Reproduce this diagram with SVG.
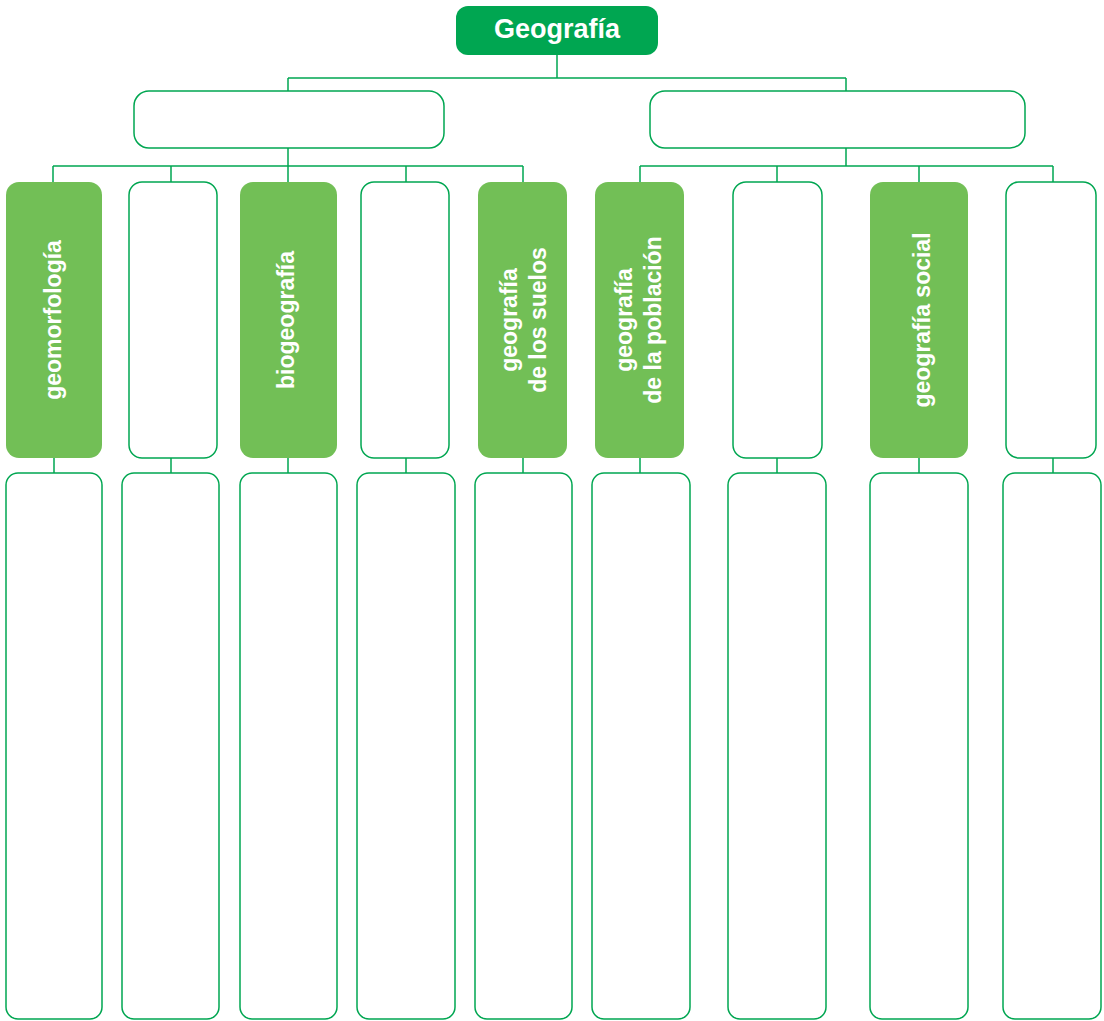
<svg xmlns="http://www.w3.org/2000/svg" width="1104" height="1021" viewBox="0 0 1104 1021">
<style>
.out{fill:#ffffff;stroke:#00A651;stroke-width:1.5}
.grn{fill:#72BF56}
.top{fill:#00A651}
.ln{stroke:#00A651;stroke-width:1.5;fill:none}
.t{font-family:"Liberation Sans",Arial,sans-serif;font-weight:bold;font-size:23px;fill:#ffffff;text-anchor:middle}
.h{font-family:"Liberation Sans",Arial,sans-serif;font-weight:bold;font-size:27px;fill:#ffffff;text-anchor:middle}
</style>
<rect width="1104" height="1021" fill="#ffffff"/>
<g id="connectors" class="ln">
<path d="M557 55V78M288 78H846M288 78V91M846 78V91"/>
<path d="M288 148V166M53 166H523M53 166V182M171 166V182M288 166V182M406 166V182M523 166V182"/>
<path d="M846 148V166M640 166H1053M640 166V182M777 166V182M919 166V182M1053 166V182"/>
<path d="M54 458V473M171 458V473M288 458V473M406 458V473M523 458V473M640 458V473M777 458V473M919 458V473M1053 458V473"/>
</g>
<g id="geografia"><rect class="top" x="456" y="6" width="202" height="49" rx="12"/><text class="h" x="557" y="38">Geografía</text></g>
<g id="rama-izq"><rect class="out" x="134" y="91" width="310" height="57" rx="15"/></g>
<g id="rama-der"><rect class="out" x="650" y="91" width="375" height="57" rx="15"/></g>
<g id="geomorfologia"><rect class="grn" x="6" y="182" width="96" height="276" rx="13"/><text class="t" transform="translate(61 320) rotate(-90)">geomorfología</text></g>
<g id="n2"><rect class="out" x="129" y="182" width="88" height="276" rx="13"/></g>
<g id="biogeografia"><rect class="grn" x="240" y="182" width="97" height="276" rx="13"/><text class="t" transform="translate(294 320) rotate(-90)">biogeografía</text></g>
<g id="n4"><rect class="out" x="361" y="182" width="88" height="276" rx="13"/></g>
<g id="suelos"><rect class="grn" x="478" y="182" width="89" height="276" rx="13"/><text class="t" transform="translate(517 320) rotate(-90)">geografía</text><text class="t" transform="translate(546 320) rotate(-90)">de los suelos</text></g>
<g id="poblacion"><rect class="grn" x="595" y="182" width="89" height="276" rx="13"/><text class="t" transform="translate(632 320) rotate(-90)">geografía</text><text class="t" transform="translate(661 320) rotate(-90)">de la población</text></g>
<g id="n7"><rect class="out" x="733" y="182" width="89" height="276" rx="13"/></g>
<g id="social"><rect class="grn" x="870" y="182" width="98" height="276" rx="13"/><text class="t" transform="translate(930 320) rotate(-90)">geografía social</text></g>
<g id="n9"><rect class="out" x="1006" y="182" width="90" height="276" rx="13"/></g>
<g id="b1"><rect class="out" x="6" y="473" width="96" height="546" rx="12"/></g>
<g id="b2"><rect class="out" x="122" y="473" width="97" height="546" rx="12"/></g>
<g id="b3"><rect class="out" x="240" y="473" width="97" height="546" rx="12"/></g>
<g id="b4"><rect class="out" x="357" y="473" width="98" height="546" rx="12"/></g>
<g id="b5"><rect class="out" x="475" y="473" width="97" height="546" rx="12"/></g>
<g id="b6"><rect class="out" x="592" y="473" width="98" height="546" rx="12"/></g>
<g id="b7"><rect class="out" x="728" y="473" width="98" height="546" rx="12"/></g>
<g id="b8"><rect class="out" x="870" y="473" width="98" height="546" rx="12"/></g>
<g id="b9"><rect class="out" x="1003" y="473" width="98" height="546" rx="12"/></g>
</svg>
